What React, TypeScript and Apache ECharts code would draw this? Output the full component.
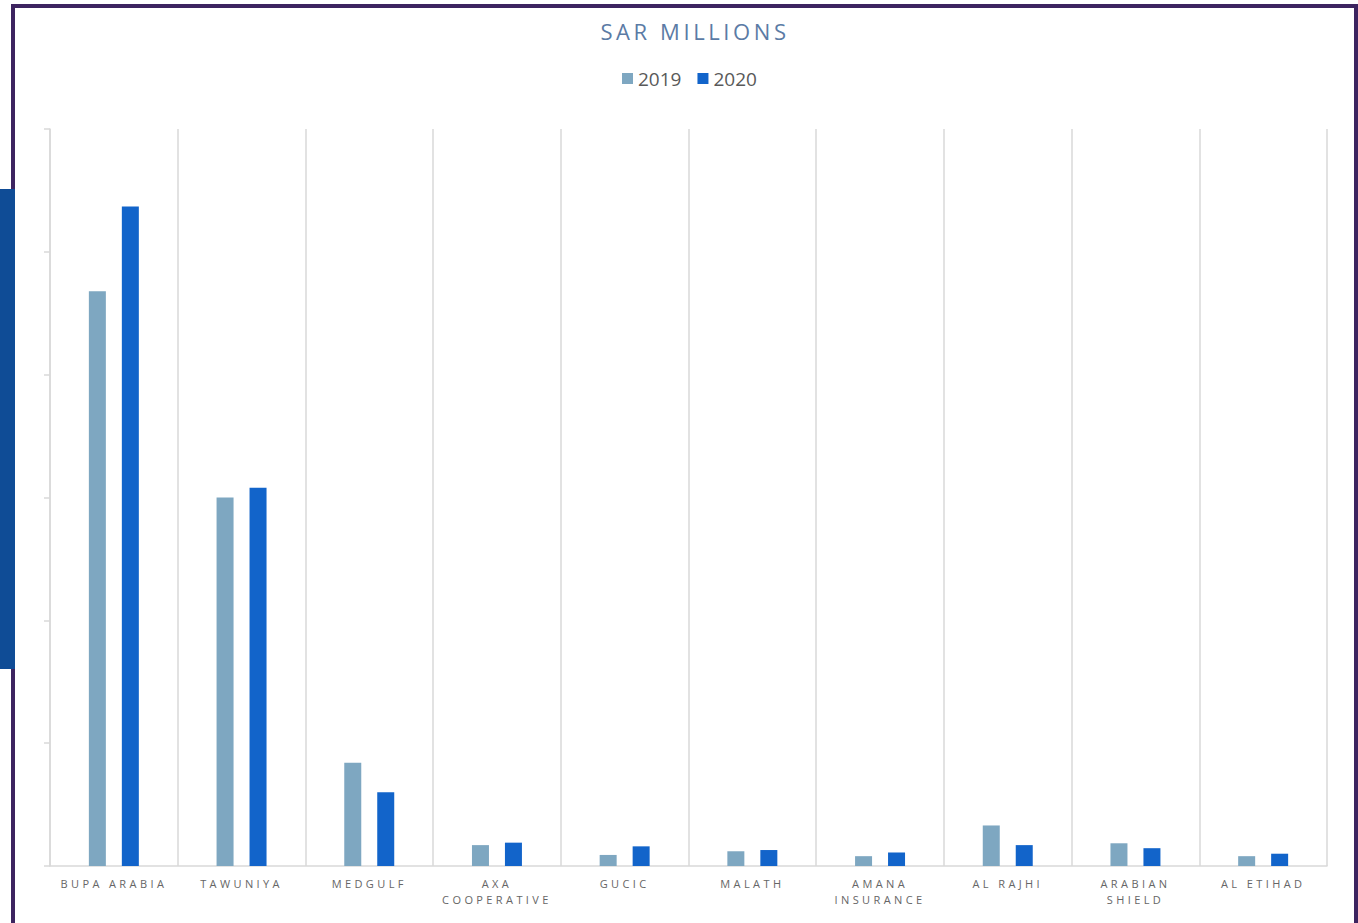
import React, { useEffect, useRef } from "react";
import * as echarts from "echarts";

const categories = [
  "BUPA ARABIA",
  "TAWUNIYA",
  "MEDGULF",
  "AXA\nCOOPERATIVE",
  "GUCIC",
  "MALATH",
  "AMANA\nINSURANCE",
  "AL RAJHI",
  "ARABIAN\nSHIELD",
  "AL ETIHAD",
];
const values2019 = [4680, 3000, 840, 170, 90, 120, 80, 330, 185, 80];
const values2020 = [5370, 3080, 600, 190, 160, 130, 110, 170, 145, 100];
const seriesNames = ["2019", "2020"];
const titleText = "SAR MILLIONS";

export default function App() {
  const ref = useRef<HTMLDivElement>(null);
  useEffect(() => {
    if (!ref.current) return;
    const chart = echarts.init(ref.current, undefined, { renderer: "svg" });
    const spaced = new Set<string>();
    categories.forEach((c) => c.split("\n").forEach((l) => spaced.add(l)));
    const applySpacing = () => {
      if (!ref.current) return;
      ref.current.querySelectorAll("text").forEach((t) => {
        const s = (t.textContent || "").trim();
        if (s === titleText) (t as any).style.letterSpacing = "3.6px";
        else if (spaced.has(s)) (t as any).style.letterSpacing = "3.4px";
      });
    };
    chart.setOption({
      animation: false,
      backgroundColor: "#ffffff",
      title: {
        text: titleText,
        left: 690,
        textAlign: "center",
        top: 15,
        textStyle: {
          fontFamily: "Open Sans",
          fontSize: 22,
          fontWeight: "normal",
          color: "#5b7ba5",
        },
      },
      legend: {
        data: seriesNames,
        left: 617,
        top: 64,
        itemWidth: 11,
        itemHeight: 11,
        itemGap: 16,
        icon: "rect",
        textStyle: { fontFamily: "Open Sans", fontSize: 19, color: "#595959" },
      },
      grid: { left: 50, right: 31, top: 129, bottom: 57, containLabel: false },
      xAxis: {
        type: "category",
        data: categories,
        boundaryGap: true,
        axisLine: { show: true, lineStyle: { color: "#d9d9d9", width: 1.5 } },
        axisTick: { show: false },
        splitLine: { show: true, interval: 0, lineStyle: { color: "#d9d9d9", width: 1.5 } },
        axisLabel: {
          interval: 0,
          margin: 9,
          fontFamily: "Open Sans",
          fontSize: 11,
          color: "#666666",
          lineHeight: 16,
        },
      },
      yAxis: {
        type: "value",
        min: 0,
        max: 6000,
        interval: 1000,
        axisLine: { show: true, lineStyle: { color: "#d9d9d9", width: 1.5 } },
        axisTick: { show: true, length: 6, lineStyle: { color: "#d9d9d9", width: 1.5 } },
        axisLabel: { show: false },
        splitLine: { show: false },
      },
      graphic: [
        {
          type: "rect",
          shape: { x: 13, y: 6, width: 1343, height: 960 },
          style: { fill: "none", stroke: "#3d2460", lineWidth: 4 },
          z: 100,
        },
        {
          type: "rect",
          shape: { x: 0, y: 189, width: 15, height: 480 },
          style: { fill: "#0f4c96" },
          z: 101,
        },
      ],
      series: [
        {
          name: seriesNames[0],
          type: "bar",
          data: values2019,
          barWidth: 17,
          barGap: "94%",
          itemStyle: { color: "#7ea7c1" },
        },
        {
          name: seriesNames[1],
          type: "bar",
          data: values2020,
          barWidth: 17,
          itemStyle: { color: "#1264ca" },
        },
      ],
    });
    applySpacing();
    chart.on("finished", applySpacing);
    return () => chart.dispose();
  }, []);
  return (
    <div
      ref={ref}
      style={{ position: "fixed", left: 0, top: 0, width: 1358, height: 923 }}
    />
  );
}
